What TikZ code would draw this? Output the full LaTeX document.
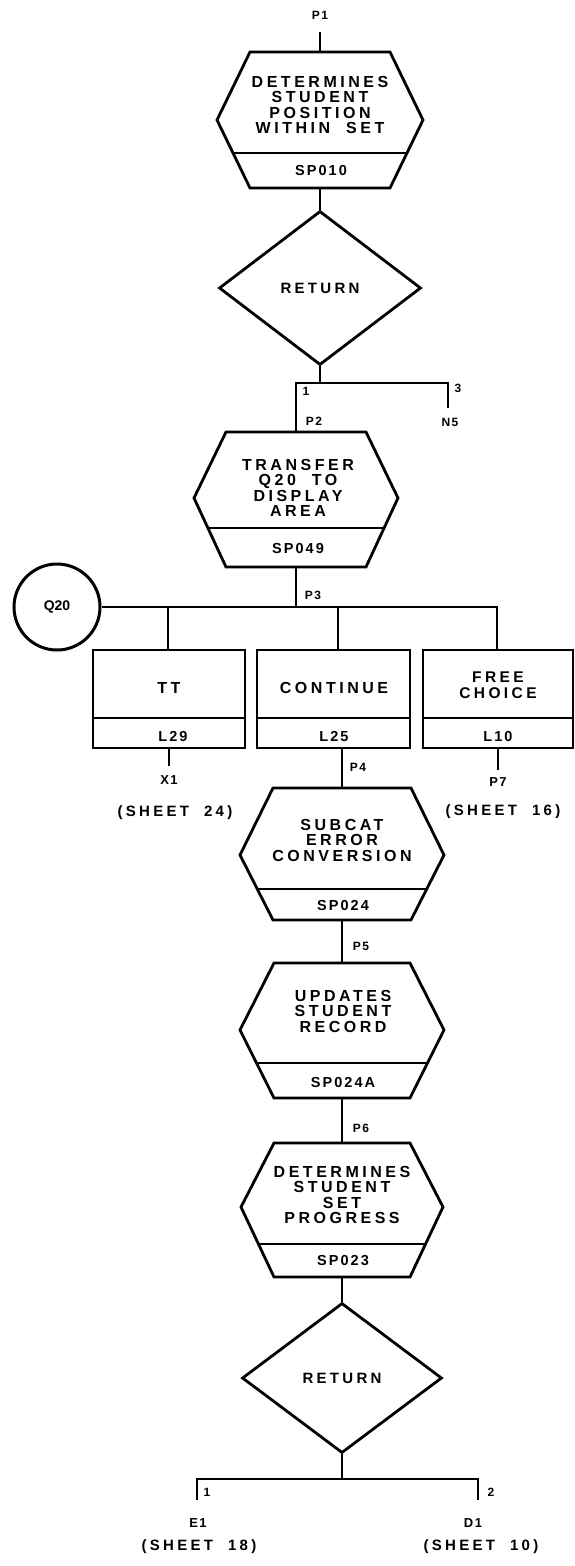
\documentclass[tikz,border=0pt]{standalone}
\usepackage{fontspec}
\usetikzlibrary{shapes.geometric}
\newfontfamily\widefont[LetterSpace=22]{Liberation Sans}
\newfontfamily\codefont[LetterSpace=14]{Liberation Sans}
\newfontfamily\lblfont[LetterSpace=12]{Liberation Sans}
\newfontfamily\plainfont{Liberation Sans}
\newcommand{\hexproc}[8]{%
  \draw[ln] (#2-#6,#3) -- (#2+#6,#3) -- (#2+#7,#4) -- (#2+#6,#5) -- (#2-#6,#5) -- (#2-#7,#4) -- cycle;
  \begin{scope}
    \clip (#2-#6,#3) -- (#2+#6,#3) -- (#2+#7,#4) -- (#2+#6,#5) -- (#2-#6,#5) -- (#2-#7,#4) -- cycle;
    \draw[ln] (#2-150,#8) -- (#2+150,#8);
  \end{scope}
  \coordinate (#1-top) at (#2,#3);
  \coordinate (#1-bot) at (#2,#5);
}
\tikzset{
  ln/.style={line width=2.8pt},
  proctext/.style={align=center, inner sep=0pt, font=\widefont\bfseries\fontsize{16}{15.5}\selectfont},
  codetext/.style={inner sep=0pt, font=\codefont\bfseries\fontsize{14.5}{15}\selectfont},
  lbl/.style={inner sep=0pt, font=\lblfont\bfseries\fontsize{12}{12}\selectfont},
  sheet/.style={inner sep=0pt, font=\widefont\bfseries\fontsize{15}{15}\selectfont},
  dec/.style={diamond, draw, line width=2.8pt, inner sep=0pt, font=\widefont\bfseries\fontsize{15}{15}\selectfont},
  boxnode/.style={draw, line width=2.8pt, minimum height=98pt, inner sep=0pt},
}
\begin{document}
\begin{tikzpicture}[x=1pt, y=-1pt]
\useasboundingbox (0,0) rectangle (575,1566);

% ---- hexagon 1
\hexproc{h1}{320}{52}{120}{188}{70}{103}{153}
\node[proctext] (h1t) at (320,105) {DETERMINES\\STUDENT\\POSITION\\WITHIN~~SET};
\node[codetext] (h1c) at (321,171) {SP010};
\coordinate (p1end) at (320,32);
\draw[ln] (p1end) -- (h1-top);
\node[lbl] (p1lbl) at (320,15) {P1};

% ---- return 1
\node[dec, minimum width=202pt, minimum height=154pt] (ret1) at (320,288) {RETURN};
\draw[ln] (h1-bot) -- (ret1.north);
\coordinate (bar1) at (320,383);
\coordinate (bar1l) at (296,383);
\coordinate (bar1r) at (448,383);
\coordinate (n5end) at (448,408);
\draw[ln] (ret1.south) -- (bar1);

% ---- hexagon 2
\hexproc{h2}{296}{432}{498}{567}{70}{102}{528}
\node[proctext] (h2t) at (298,488) {TRANSFER\\Q20~~TO\\DISPLAY\\AREA};
\node[codetext] (h2c) at (298,549) {SP049};
\draw[ln] (h2-top) -- (bar1l) -- (bar1r) -- (n5end);
\node[lbl] (one1) at (306,391) {1};
\node[lbl] (three) at (458,388) {3};
\node[lbl] (n5) at (450,422) {N5};
\node[lbl] (p2lbl) at (314,421) {P2};

% ---- Q20 and branch bar
\node[draw, circle, line width=3pt, minimum size=86pt, inner sep=0pt,
      font=\plainfont\bfseries\fontsize{14}{14}\selectfont] (q20) at (57,607) {Q20};
\coordinate (bar2) at (296,607);
\coordinate (bar2r) at (497,607);
\coordinate (d1) at (168,607);
\coordinate (d2) at (338,607);
\draw[ln] (h2-bot) -- (bar2);
\node[lbl] (p3lbl) at (313,595) {P3};

% ---- three boxes
\node[boxnode, minimum width=152pt] (tt) at (169,699) {};
\node[boxnode, minimum width=153pt] (cont) at (333.5,699) {};
\node[boxnode, minimum width=150pt] (free) at (498,699) {};
\draw[ln] (tt.west |- 0,718) -- (tt.east |- 0,718);
\draw[ln] (cont.west |- 0,718) -- (cont.east |- 0,718);
\draw[ln] (free.west |- 0,718) -- (free.east |- 0,718);
\draw[ln] (q20.east) -- (bar2r) -- (free.north -| bar2r);
\draw[ln] (d1) -- (d1 |- tt.north);
\draw[ln] (d2) -- (d2 |- cont.north);
\node[proctext] (ttt) at (169,688) {TT};
\node[proctext] (contt) at (334,688) {CONTINUE};
\node[proctext, font=\widefont\bfseries\fontsize{15.5}{16}\selectfont] (freet) at (498,685) {FREE\\CHOICE};
\node[codetext] (ttc) at (173,736) {L29};
\node[codetext] (contc) at (334,736) {L25};
\node[codetext] (freec) at (498,736) {L10};

% ---- exits from boxes
\coordinate (x1end) at (169,766);
\draw[ln] (tt.south) -- (x1end);
\node[lbl, font=\lblfont\bfseries\fontsize{13}{13}\selectfont] (x1) at (169,780) {X1};
\node[sheet] (sh24) at (175,813) {(SHEET~~24)};
\coordinate (p7end) at (498,770);
\draw[ln] (free.south) -- (p7end);
\node[lbl, font=\lblfont\bfseries\fontsize{13}{13}\selectfont] (p7) at (498,782) {P7};
\node[sheet] (sh16) at (503,812) {(SHEET~~16)};

% ---- hexagon 3
\hexproc{h3}{342}{788}{855}{920}{69}{102}{889}
\node[proctext] (h3t) at (342,840) {SUBCAT\\ERROR\\CONVERSION};
\node[codetext] (h3c) at (343,905) {SP024};
\draw[ln] (cont.south -| h3-top) -- (h3-top);
\node[lbl] (p4lbl) at (358,767) {P4};

% ---- hexagon 4
\hexproc{h4}{342}{963}{1030}{1098}{68}{102}{1063}
\node[proctext] (h4t) at (343,1011) {UPDATES\\STUDENT\\RECORD};
\node[codetext] (h4c) at (343,1082) {SP024A};
\draw[ln] (h3-bot) -- (h4-top);
\node[lbl] (p5lbl) at (361,946) {P5};

% ---- hexagon 5
\hexproc{h5}{342}{1143}{1207}{1277}{68}{101}{1244}
\node[proctext] (h5t) at (342,1195) {DETERMINES\\STUDENT\\SET\\PROGRESS};
\node[codetext] (h5c) at (343,1261) {SP023};
\draw[ln] (h4-bot) -- (h5-top);
\node[lbl] (p6lbl) at (361,1128) {P6};

% ---- return 2
\node[dec, minimum width=200pt, minimum height=150pt] (ret2) at (342,1378) {RETURN};
\draw[ln] (h5-bot) -- (ret2.north);
\coordinate (bar3) at (342,1479);
\coordinate (bar3l) at (197,1479);
\coordinate (bar3r) at (478,1479);
\coordinate (e1end) at (197,1500);
\coordinate (d1end) at (478,1500);
\draw[ln] (ret2.south) -- (bar3);
\draw[ln] (e1end) -- (bar3l) -- (bar3r) -- (d1end);
\node[lbl] (one2) at (207,1492) {1};
\node[lbl] (two) at (491,1492) {2};
\node[lbl, font=\lblfont\bfseries\fontsize{13}{13}\selectfont] (e1) at (198,1523) {E1};
\node[lbl, font=\lblfont\bfseries\fontsize{13}{13}\selectfont] (d1lbl) at (473,1523) {D1};
\node[sheet] (sh18) at (199,1547) {(SHEET~~18)};
\node[sheet] (sh10) at (481,1547) {(SHEET~~10)};
\end{tikzpicture}
\end{document}
